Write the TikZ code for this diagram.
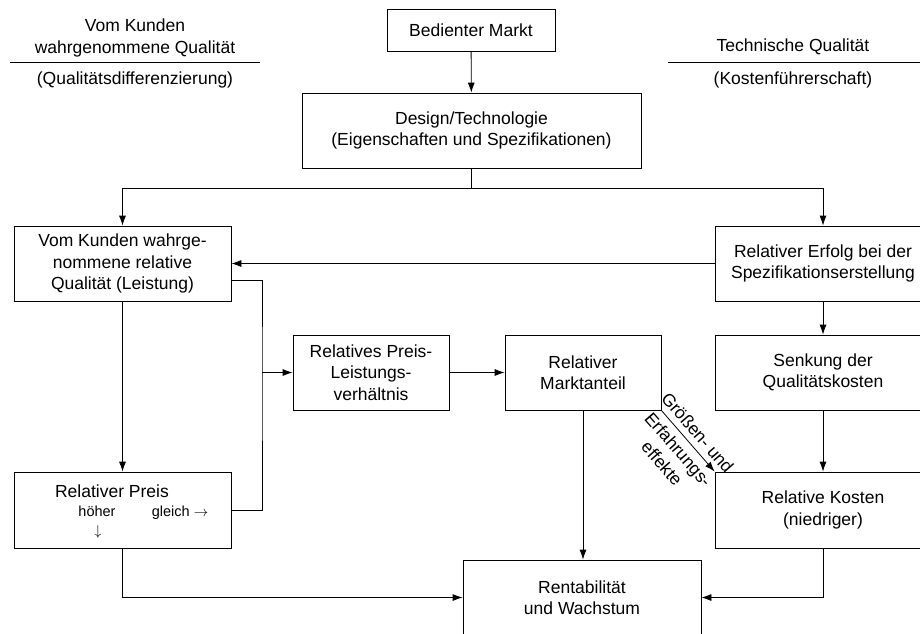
\documentclass[tikz,border=0pt]{standalone}
\usepackage{fontspec}
\setmainfont{Liberation Sans}
\usetikzlibrary{arrows.meta}
\begin{document}
\begin{tikzpicture}[x=1pt, y=-1pt, line width=0.8pt,
  every node/.style={font=\fontsize{17.5}{21.5}\selectfont},
  box/.style={draw, rectangle, align=center, inner sep=0pt, minimum width=#1, minimum height=75pt},
  box/.default=216pt,
  small/.style={font=\fontsize{14.5}{17}\selectfont, inner sep=0pt},
  arr/.style={-{Latex[length=10pt, width=7pt]}}]
  \useasboundingbox (0,0) rectangle (920,633);
  \clip (0,0) rectangle (920,633);
  % headers
  \node[align=center] (lhead) at (135,38) {Vom Kunden\\wahrgenommene Qualität};
  \node (lsub) at (135,80) {(Qualitätsdifferenzierung)};
  \draw (10,62) -- (260,62);
  \node (rhead) at (793,47) {Technische Qualität};
  \node (rsub) at (793,80) {(Kostenführerschaft)};
  \draw (668,62) -- (920,62);
  % boxes
  \node[box=168pt, minimum height=42pt] (markt) at (471,30) {Bedienter Markt};
  \node[box=339pt] (design) at (471.5,130.5) {Design/Technologie\\(Eigenschaften und Spezifikationen)};
  \node[box=217pt] (kunde) at (122.5,263.5) {Vom Kunden wahrge-\\nommene relative\\Qualität (Leistung)};
  \node[box] (erfolg) at (823,263.5) {Relativer Erfolg bei der\\Spezifikationserstellung};
  \node[box=156pt] (ppv) at (371,372.5) {Relatives Preis-\\Leistungs-\\verhältnis};
  \node[box=156pt] (anteil) at (583,372.5) {Relativer\\Marktanteil};
  \node[box] (senkung) at (823,372.5) {Senkung der\\Qualitätskosten};
  \node[box=217pt, minimum height=76pt] (preis) at (122.5,510) {};
  \node (preislbl) at (112,491) {Relativer Preis};
  \node[small, anchor=base] (hoeher) at (97,516) {höher};
  \node[small, anchor=base] (gleich) at (180,516) {gleich $\rightarrow$};
  \node[small] (runter) at (98,532) {$\downarrow$};
  \node[box, minimum height=76pt] (kosten) at (823,510) {Relative Kosten\\(niedriger)};
  \node[box=238pt] (rent) at (582,597.5) {Rentabilität\\und Wachstum};
  % connectors
  \coordinate (split) at (471.5,188);
  \coordinate (bus) at (262,372.5);
  \draw[arr] (markt) -- (design);
  \draw (design) -- (split);
  \draw[arr] (split) -| (kunde);
  \draw[arr] (split) -| (erfolg);
  \draw[arr] (erfolg) -- (kunde);
  \draw[arr] (kunde) -- (preis);
  \draw ([yshift=-16.5pt]kunde.east) -| (bus) |- (preis.east);
  \draw[arr] (bus) -- (ppv);
  \draw[arr] (ppv) -- (anteil);
  \draw[arr] (erfolg) -- (senkung);
  \draw[arr] (senkung) -- (kosten);
  \draw[arr] (anteil.south) -- (anteil.south |- rent.north);
  \draw[arr] (anteil.south east) -- node[sloped, above, inner sep=6pt]{Größen- und}
    node[sloped, below, align=center, inner sep=6pt]{Erfahrungs-\\effekte} (kosten.north west);
  \draw[arr] (preis.south) |- (rent.west);
  \draw[arr] (kosten.south) |- (rent.east);
\end{tikzpicture}
\end{document}
